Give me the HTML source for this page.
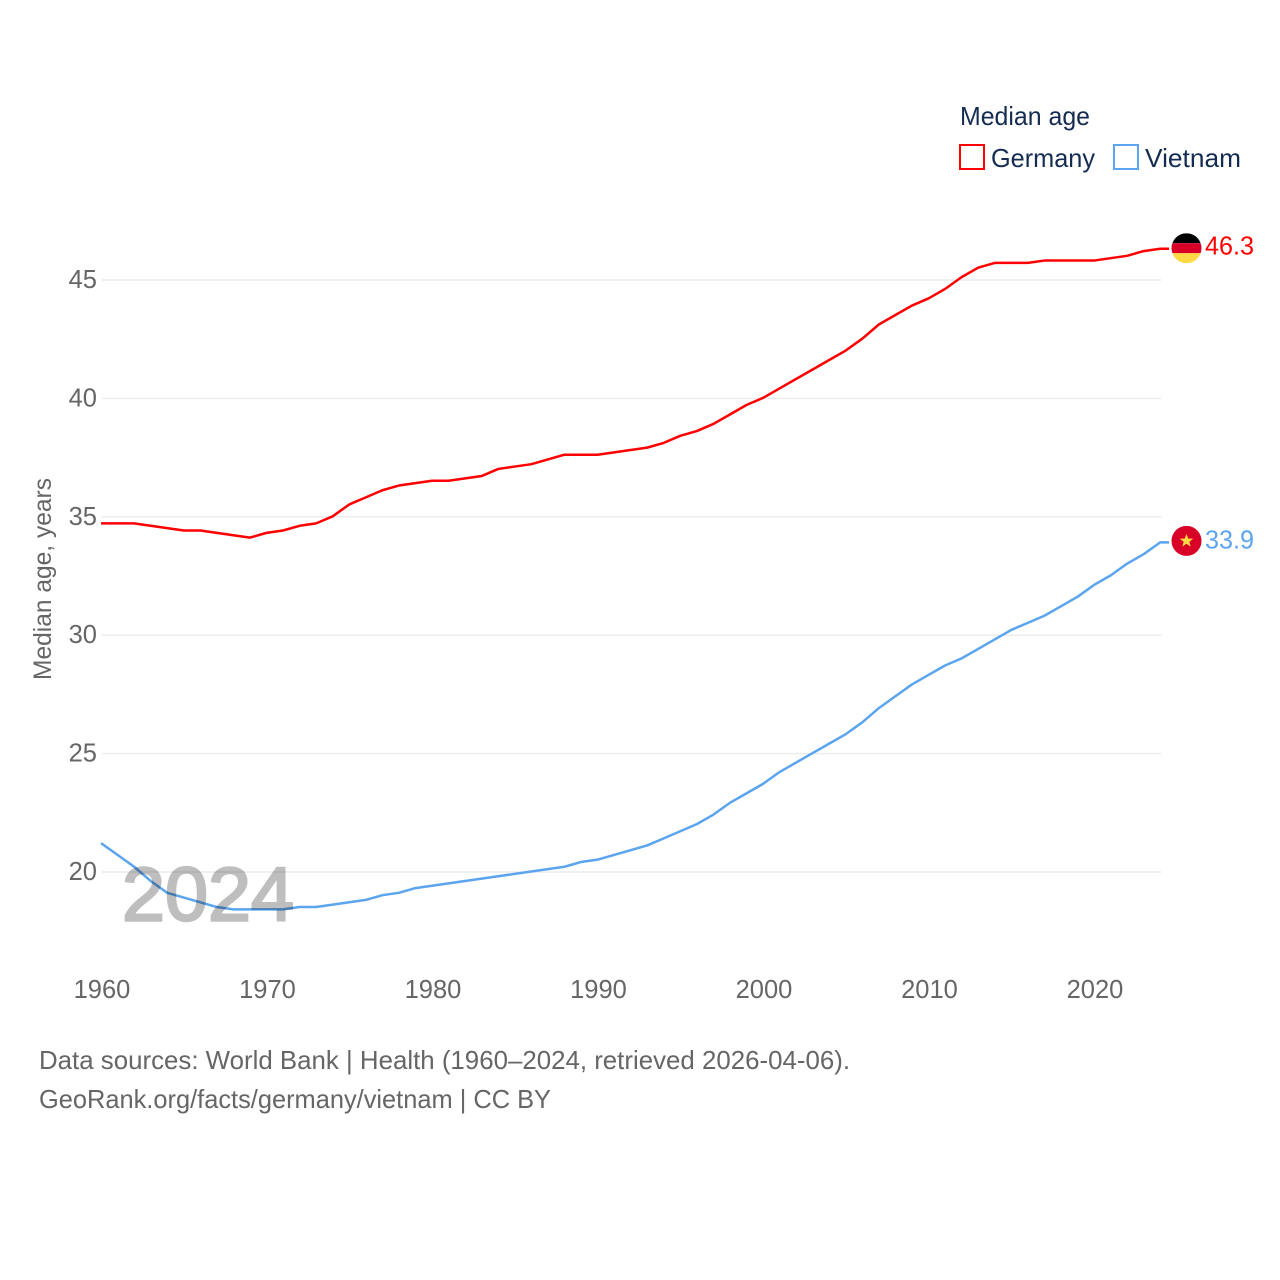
<!DOCTYPE html>
<html lang="en">
<head>
<meta charset="utf-8">
<title>Median age: Germany and Vietnam</title>
<style>
  html, body { margin: 0; padding: 0; background: #fff; }
  svg { display: block; }
  text { font-family: "Liberation Sans", Arial, sans-serif; }
</style>
</head>
<body>
<svg id="chart" xmlns="http://www.w3.org/2000/svg" width="1280" height="1280" viewBox="0 0 1280 1280">
  <rect width="1280" height="1280" fill="#fff"/>
  <g id="grid"></g>
  <g id="yticks"></g>
  <g id="xticks"></g>
  <text transform="translate(51 579) rotate(-90)" text-anchor="middle" font-size="25" fill="#666" textLength="202" lengthAdjust="spacingAndGlyphs">Median age, years</text>
  <g id="series" transform="translate(-1 -0.5)"></g>
  <text id="watermark" x="122" y="920.5" font-size="76" fill="#000" stroke="#000" stroke-width="2.5" opacity="0.25" textLength="172" lengthAdjust="spacingAndGlyphs">2024</text>

  <g>
    <text x="960" y="125" font-size="26" fill="#152c52" textLength="130" lengthAdjust="spacingAndGlyphs">Median age</text>
    <rect x="960" y="145" width="24" height="24" fill="none" stroke="#ff0000" stroke-width="2"/>
    <text x="991" y="167" font-size="26" fill="#152c52" textLength="104" lengthAdjust="spacingAndGlyphs">Germany</text>
    <rect x="1114" y="145" width="24" height="24" fill="none" stroke="#5ba4ee" stroke-width="2"/>
    <text x="1145" y="167" font-size="26" fill="#152c52" textLength="96" lengthAdjust="spacingAndGlyphs">Vietnam</text>
  </g>

  <defs>
    <clipPath id="flag-clip-de"><circle id="flag-clip-de-circle" cx="0" cy="0" r="15"/></clipPath>
  </defs>
  <g id="flag-germany">
    <g clip-path="url(#flag-clip-de)">
      <rect x="-15" y="-15" width="30" height="10" fill="#000"/>
      <rect x="-15" y="-5" width="30" height="10" fill="#d80027"/>
      <rect x="-15" y="5" width="30" height="10" fill="#ffda44"/>
    </g>
  </g>
  <g id="flag-vietnam">
    <circle cx="0" cy="0" r="15" fill="#d80027"/>
    <polygon fill="#ffda44" points="0,-7 1.8,-2.2 6.8,-2.2 2.8,0.9 4.2,5.8 0,2.9 -4.2,5.8 -2.8,0.9 -6.8,-2.2 -1.8,-2.2"/>
  </g>
  <text id="label-germany" x="1205" font-size="25.5" fill="#ff0000" textLength="49" lengthAdjust="spacingAndGlyphs"></text>
  <text id="label-vietnam" x="1205" font-size="25.5" fill="#5ba4ee" textLength="49" lengthAdjust="spacingAndGlyphs"></text>

  <text x="39" y="1069" font-size="26" fill="#666" textLength="811" lengthAdjust="spacingAndGlyphs">Data sources: World Bank | Health (1960–2024, retrieved 2026-04-06).</text>
  <text x="39" y="1108" font-size="26" fill="#666" textLength="512" lengthAdjust="spacingAndGlyphs">GeoRank.org/facts/germany/vietnam | CC BY</text>
</svg>
<script>
const years = [1960,1961,1962,1963,1964,1965,1966,1967,1968,1969,1970,1971,1972,1973,1974,1975,1976,1977,1978,1979,1980,1981,1982,1983,1984,1985,1986,1987,1988,1989,1990,1991,1992,1993,1994,1995,1996,1997,1998,1999,2000,2001,2002,2003,2004,2005,2006,2007,2008,2009,2010,2011,2012,2013,2014,2015,2016,2017,2018,2019,2020,2021,2022,2023,2024];
const germany = [34.7,34.7,34.7,34.6,34.5,34.4,34.4,34.3,34.2,34.1,34.3,34.4,34.6,34.7,35.0,35.5,35.8,36.1,36.3,36.4,36.5,36.5,36.6,36.7,37.0,37.1,37.2,37.4,37.6,37.6,37.6,37.7,37.8,37.9,38.1,38.4,38.6,38.9,39.3,39.7,40.0,40.4,40.8,41.2,41.6,42.0,42.5,43.1,43.5,43.9,44.2,44.6,45.1,45.5,45.7,45.7,45.7,45.8,45.8,45.8,45.8,45.9,46.0,46.2,46.3];
const vietnam = [21.2,20.7,20.2,19.6,19.1,18.9,18.7,18.5,18.4,18.4,18.4,18.4,18.5,18.5,18.6,18.7,18.8,19.0,19.1,19.3,19.4,19.5,19.6,19.7,19.8,19.9,20.0,20.1,20.2,20.4,20.5,20.7,20.9,21.1,21.4,21.7,22.0,22.4,22.9,23.3,23.7,24.2,24.6,25.0,25.4,25.8,26.3,26.9,27.4,27.9,28.3,28.7,29.0,29.4,29.8,30.2,30.5,30.8,31.2,31.6,32.1,32.5,33.0,33.4,33.9];
const xTickLabels = [1960,1970,1980,1990,2000,2010,2020];
const yTickLabels = [20,25,30,35,40,45];

const NS = 'http://www.w3.org/2000/svg';
function xScale(year) { return 102 + (year - 1960) * 16.55; }
function yScale(v) { return 872 - (v - 20) * 23.68; }
function make(tag, attrs, parent) {
  const el = document.createElementNS(NS, tag);
  for (const k in attrs) el.setAttribute(k, attrs[k]);
  parent.appendChild(el);
  return el;
}

const grid = document.getElementById('grid');
const yticks = document.getElementById('yticks');
yTickLabels.forEach(function (v) {
  const line = make('line', { x1: 102, x2: 1161.5, y1: yScale(v), y2: yScale(v), stroke: '#ececec', 'stroke-width': 1.5 }, grid);
  
  
  const t = make('text', { x: 97, y: yScale(v) + 8, 'text-anchor': 'end', 'font-size': 25.5, fill: '#666' }, yticks);
  
  
  t.textContent = v;
});

const xticks = document.getElementById('xticks');
xTickLabels.forEach(function (year) {
  const t = make('text', { x: xScale(year), y: 998, 'text-anchor': 'middle', 'font-size': 25.5, fill: '#666' }, xticks);
  
  
  t.textContent = year;
});

function drawLine(values, color, name) {
  const pts = values.map(function (v, i) { return xScale(years[i]).toFixed(2) + ',' + yScale(v).toFixed(2); });
  const last = values[values.length - 1];
  pts.push('1170,' + yScale(last).toFixed(2));
  const path = make('polyline', { points: pts.join(' '), fill: 'none', stroke: color, 'stroke-width': 2.5, 'stroke-linejoin': 'round' }, document.getElementById('series'));
  
  
}
drawLine(germany, '#ff0000', 'germany-line');
drawLine(vietnam, '#5ba4ee', 'vietnam-line');

const deLast = germany[germany.length - 1];
const vnLast = vietnam[vietnam.length - 1];
document.getElementById('flag-germany').setAttribute('transform', 'translate(1186.5 ' + (yScale(deLast) - 1) + ')');
document.getElementById('flag-vietnam').setAttribute('transform', 'translate(1186.5 ' + (yScale(vnLast) - 2) + ')');
const deLabel = document.getElementById('label-germany');
deLabel.setAttribute('y', yScale(deLast) + 5.5);
deLabel.textContent = deLast.toFixed(1);
const vnLabel = document.getElementById('label-vietnam');
vnLabel.setAttribute('y', yScale(vnLast) + 5.5);
vnLabel.textContent = vnLast.toFixed(1);
</script>
</body>
</html>
